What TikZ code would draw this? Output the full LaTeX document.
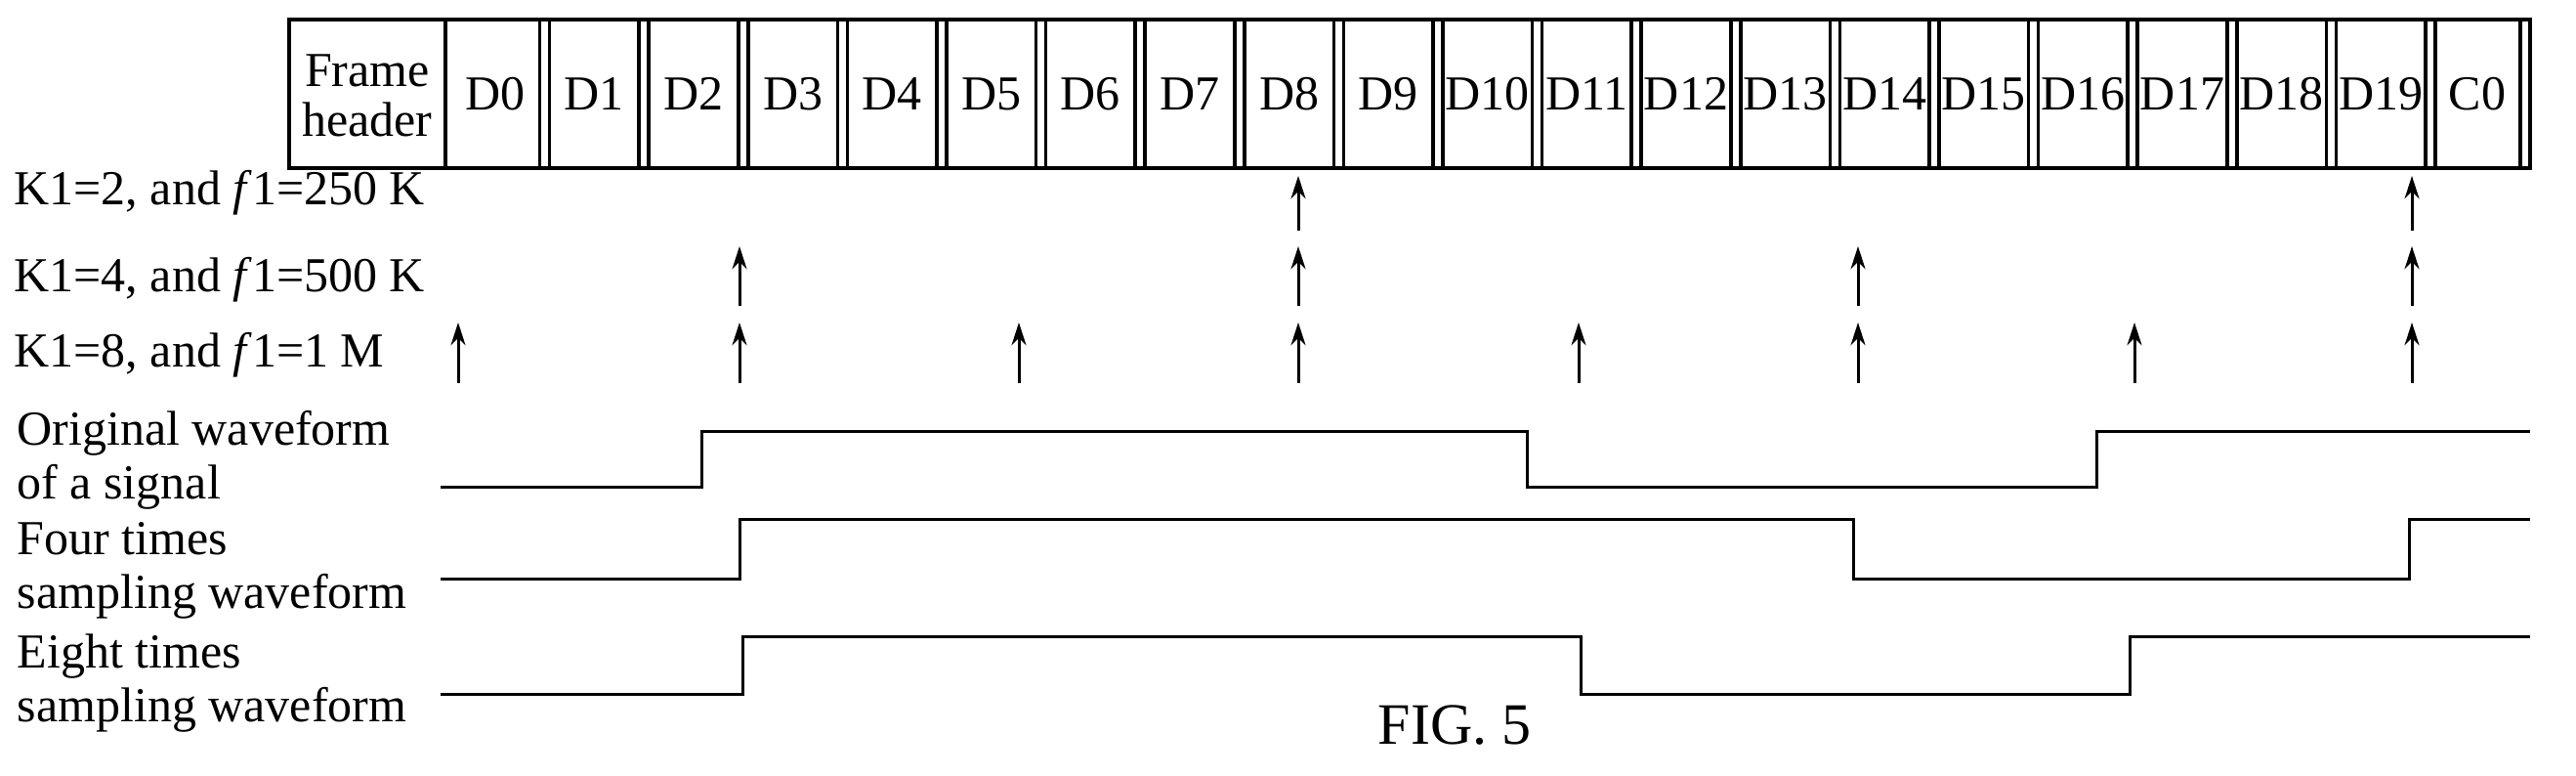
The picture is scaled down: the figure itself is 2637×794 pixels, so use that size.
\documentclass[tikz,border=0pt]{standalone}
\usepackage{fontspec}
\setmainfont{Liberation Serif}
\usetikzlibrary{arrows.meta}
\begin{document}
\begin{tikzpicture}[x=0.3pt,y=-0.3pt,
  lbl/.style={font=\fontsize{15}{16.5}\selectfont,inner sep=0pt},
  cell/.style={font=\fontsize{15}{15.5}\selectfont,inner sep=0pt},
  frm/.style={line width=1.1pt},
  smp/.style={-{Stealth[length=7pt,width=4.5pt]},line width=0.9pt},
  wave/.style={line width=0.9pt}]
\useasboundingbox (0,0) rectangle (2637,794);
\def\p{101.6}
% frame
\draw[frm] (296,20) rectangle (2590,172);
\draw[frm] (456,20) -- (456,172);
\node[cell,align=center] (hdr) at (376,98) {Frame\\header};
\foreach \k in {1,...,20}{
  \draw[frm] (456+\k*\p-5,20) -- (456+\k*\p-5,172);
  \draw[frm] (456+\k*\p+5,20) -- (456+\k*\p+5,172);
}
\draw[frm] (2580,20) -- (2580,172);
\foreach \i in {0,...,19}{
  \node[cell] (d\i) at (456+\i*\p+50.8,96) {D\i};
}
\node[cell] (c0) at (456+20*\p+48,96) {C0};
% labels
\node[lbl,anchor=west] (k2) at (14,197) {K1=2, and \textit{f}1=250 K};
\node[lbl,anchor=west] (k4) at (14,286) {K1=4, and \textit{f}1=500 K};
\node[lbl,anchor=west] (k8) at (14,363) {K1=8, and \textit{f}1=1 M};
\node[lbl,anchor=north west,align=left] (ow) at (17,420) {Original waveform\\of a signal};
\node[lbl,anchor=north west,align=left] (fw) at (17,534) {Four times\\sampling waveform};
\node[lbl,anchor=north west,align=left] (ew) at (17,648) {Eight times\\sampling waveform};
\node[font=\fontsize{18}{19}\selectfont,inner sep=0pt] (fig) at (1489,742) {FIG. 5};
% sampling arrows
\foreach \x in {1329,2469}{
  \coordinate (a) at (\x,236); \coordinate (b) at (\x,180);
  \draw[smp] (a) -- (b);}
\foreach \x in {757,1329,1902,2469}{
  \coordinate (a) at (\x,313); \coordinate (b) at (\x,252);
  \draw[smp] (a) -- (b);}
\foreach \x in {469,757,1043,1329,1616,1902,2185,2469}{
  \coordinate (a) at (\x,392); \coordinate (b) at (\x,330);
  \draw[smp] (a) -- (b);}
% waveforms
\draw[wave] (451,498) -- (718,498) -- (718,441) -- (1563,441) -- (1563,498) -- (2146,498) -- (2146,441) -- (2590,441);
\draw[wave] (451,592) -- (757,592) -- (757,531) -- (1897,531) -- (1897,592) -- (2466,592) -- (2466,531) -- (2590,531);
\draw[wave] (451,710) -- (760,710) -- (760,651) -- (1618,651) -- (1618,710) -- (2180,710) -- (2180,651) -- (2590,651);
\end{tikzpicture}
\end{document}
